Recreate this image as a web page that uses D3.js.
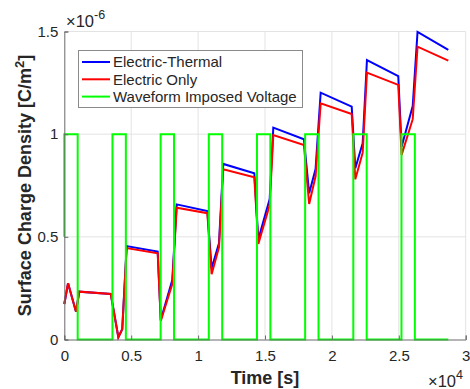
<!DOCTYPE html>
<html>
<head>
<meta charset="utf-8">
<script src="https://cdn.jsdelivr.net/npm/d3@7"></script>
<style>
  body { margin: 0; background: #fff; }
  text { font-family: "Liberation Sans", Arial, Helvetica, sans-serif; fill: #262626; }
</style>
</head>
<body>
<svg width="470" height="389"></svg>
<script>
// time samples [s] for the two charge curves
const timeS = [0, 280, 875, 1120, 3470, 4040, 4330, 4660, 6980, 7210, 8070, 8400, 10690, 11010, 11560, 11880,
	14200, 14500, 15350, 15620, 17910, 18300, 18780, 19160, 21480, 21750, 22300, 22620, 24960, 25210, 26040, 26400, 28700];
// surface charge density, in units of 1e-6 C/m^2
const electricThermal = [0.173, 0.274, 0.135, 0.233, 0.222, 0.011, 0.05, 0.455, 0.428, 0.095, 0.29, 0.658, 0.626, 0.347, 0.469, 0.855,
	0.81, 0.488, 0.684, 1.032, 0.975, 0.712, 0.83, 1.202, 1.134, 0.834, 0.956, 1.361, 1.283, 0.939, 1.137, 1.498, 1.41];
const electricOnly = [0.173, 0.274, 0.135, 0.233, 0.222, 0.011, 0.05, 0.445, 0.42, 0.09, 0.27, 0.642, 0.615, 0.318, 0.449, 0.829,
	0.79, 0.465, 0.655, 0.996, 0.947, 0.66, 0.795, 1.15, 1.098, 0.78, 0.91, 1.30, 1.24, 0.899, 1.073, 1.426, 1.358];
// imposed voltage waveform (normalised)
const waveTime = [0, 0, 1000, 1000, 3600, 3600, 4600, 4600, 7200, 7200, 8200, 8200, 10800, 10800, 11800, 11800,
	14400, 14400, 15400, 15400, 18000, 18000, 19000, 19000, 21600, 21600, 22600, 22600, 25200, 25200, 26200, 26200, 28700];
const waveLevel = [0.5, 1, 1, 0, 0, 1, 1, 0, 0, 1, 1, 0, 0, 1, 1, 0,
	0, 1, 1, 0, 0, 1, 1, 0, 0, 1, 1, 0, 0, 1, 1, 0, 0];

const xTicks = [0, 5000, 10000, 15000, 20000, 25000, 30000];
const xTickLabels = ["0", "0.5", "1", "1.5", "2", "2.5", "3"];
const yTicks = [0, 0.5, 1, 1.5];
const yTickLabels = ["0", "0.5", "1", "1.5"];

const seriesNames = ["Electric-Thermal", "Electric Only", "Waveform Imposed Voltage"];
const seriesColors = ["#0000ff", "#ff0000", "#00ff00"];

const svg = d3.select("svg");
const plotL = 64.3, plotR = 465.7, plotT = 31.5, plotB = 339.5;

const x = d3.scaleLinear().domain([0, 30000]).range([plotL, plotR]);
const y = d3.scaleLinear().domain([0, 1.5]).range([plotB, plotT]);

// grid
const grid = svg.append("g").attr("stroke", "#e3e3e3").attr("stroke-width", 1);
grid.selectAll(".gx").data(xTicks.slice(1)).enter().append("line")
	.attr("x1", d => x(d)).attr("x2", d => x(d)).attr("y1", plotT).attr("y2", plotB);
grid.selectAll(".gy").data(yTicks.slice(1)).enter().append("line")
	.attr("y1", d => y(d)).attr("y2", d => y(d)).attr("x1", plotL).attr("x2", plotR);

// curves
const line = d3.line().x(d => x(d[0])).y(d => y(d[1]));
const series = [
	d3.zip(timeS, electricThermal),
	d3.zip(timeS, electricOnly),
	d3.zip(waveTime, waveLevel)
];
svg.append("g").selectAll("path")
	.data(series)
	.enter()
	.append("path")
	.attr("d", line)
	.attr("fill", "none")
	.attr("stroke", (d, i) => seriesColors[i])
	.attr("stroke-width", 2)
	.attr("stroke-linejoin", "miter");

// axes
const xAxis = d3.axisBottom(x).tickValues(xTicks).tickFormat((d, i) => xTickLabels[i])
	.tickSize(-4).tickPadding(11);
const yAxis = d3.axisLeft(y).tickValues(yTicks).tickFormat((d, i) => yTickLabels[i])
	.tickSize(-4).tickPadding(6);

const gx = svg.append("g").attr("transform", `translate(0,${plotB})`).call(xAxis);
const gy = svg.append("g").attr("transform", `translate(${plotL},0)`).call(yAxis);
[gx, gy].forEach(g => {
	g.select(".domain").attr("stroke", "#6a6a6a").attr("stroke-width", 1);
	g.selectAll(".tick line").attr("stroke", "#6a6a6a");
	g.selectAll(".tick text").attr("font-size", 15).attr("fill", "#262626")
		.style("font-family", "'Liberation Sans', Arial, sans-serif");
});

// exponent labels
const expY = svg.append("text").attr("x", 66).attr("y", 27).attr("font-size", 16.5);
expY.append("tspan").text("\u00d710");
expY.append("tspan").attr("dy", -8).attr("font-size", 12.5).text("-6");

const expX = svg.append("text").attr("x", 428).attr("y", 387).attr("font-size", 16.5);
expX.append("tspan").text("\u00d710");
expX.append("tspan").attr("dy", -8).attr("font-size", 12.5).text("4");

// axis titles
svg.append("text")
	.attr("x", 265).attr("y", 384)
	.attr("text-anchor", "middle")
	.attr("font-size", 18).attr("font-weight", "bold")
	.text("Time [s]");

const yl = svg.append("text")
	.attr("transform", `translate(31,${(plotT + plotB) / 2}) rotate(-90)`)
	.attr("text-anchor", "middle")
	.attr("font-size", 18).attr("font-weight", "bold");
yl.append("tspan").text("Surface Charge Density [C/m");
yl.append("tspan").attr("dy", -7).attr("font-size", 13).text("2");
yl.append("tspan").attr("dy", 7).text("]");

// legend
const legend = svg.append("g");
legend.append("rect")
	.attr("x", 78.5).attr("y", 50.5).attr("width", 224).attr("height", 57)
	.attr("fill", "#fff").attr("stroke", "#8a8a8a").attr("stroke-width", 1);
const rows = legend.selectAll("g.row").data(seriesNames).enter().append("g")
	.attr("transform", (d, i) => `translate(0,${62 + i * 17.3})`);
rows.append("line")
	.attr("x1", 82).attr("x2", 110)
	.attr("stroke", (d, i) => seriesColors[i]).attr("stroke-width", 2);
rows.append("text")
	.attr("x", 113).attr("dy", "0.35em")
	.attr("font-size", 15)
	.text(d => d);
</script>
</body>
</html>
